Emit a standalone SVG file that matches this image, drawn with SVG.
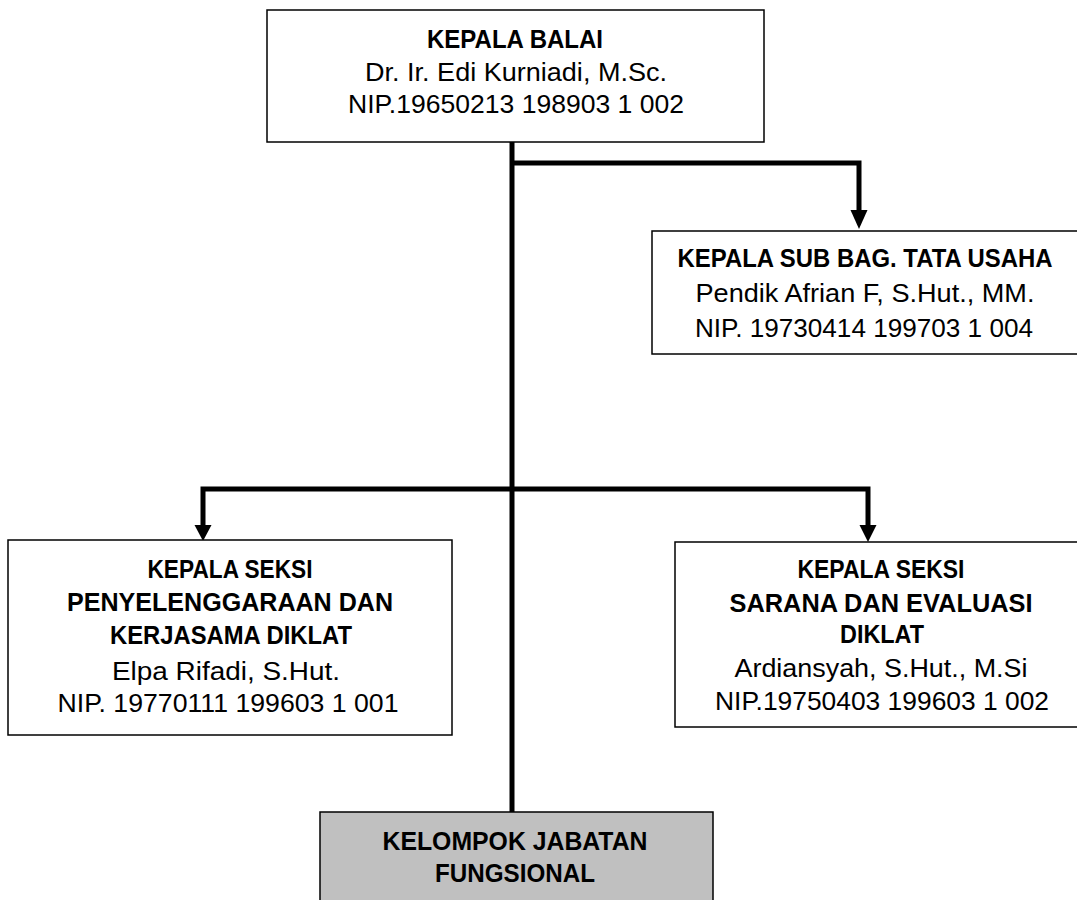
<svg xmlns="http://www.w3.org/2000/svg" width="1077" height="900" viewBox="0 0 1077 900">
<style>
.box{fill:#fff;stroke:#000;stroke-width:1.5}
.gray{fill:#c0c0c0;stroke:#000;stroke-width:1.5}
.t{font-family:"Liberation Sans",Arial,sans-serif;font-size:25px;fill:#000;text-anchor:middle}
.b{font-weight:bold}
.ln{fill:none;stroke:#000;stroke-width:5;stroke-linejoin:miter;stroke-linecap:butt}
.ah{fill:#000}
</style>
<rect width="1077" height="900" fill="#fff"/>
<g id="connectors">
<line class="ln" x1="512" y1="142" x2="512" y2="812"/>
<polyline class="ln" points="512,163 859,163 859,212"/>
<polygon class="ah" points="850.5,210 867.5,210 859,229"/>
<polyline class="ln" points="203,527 203,489 868,489 868,527"/>
<polygon class="ah" points="194.5,525 211.5,525 203,541"/>
<polygon class="ah" points="859.5,525 876.5,525 868,542"/>
</g>
<g id="kepala-balai">
<rect class="box" x="267" y="10" width="497" height="132"/>
<text class="t b" x="515" y="48" textLength="176" lengthAdjust="spacingAndGlyphs">KEPALA BALAI</text>
<text class="t" x="516" y="81" textLength="302" lengthAdjust="spacingAndGlyphs">Dr. Ir. Edi Kurniadi, M.Sc.</text>
<text class="t" x="516" y="113" textLength="336" lengthAdjust="spacingAndGlyphs">NIP.19650213 198903 1 002</text>
</g>
<g id="tata-usaha">
<rect class="box" x="652" y="231" width="430" height="123"/>
<text class="t b" x="865" y="267" textLength="375" lengthAdjust="spacingAndGlyphs">KEPALA SUB BAG. TATA USAHA</text>
<text class="t" x="865" y="302" textLength="339" lengthAdjust="spacingAndGlyphs">Pendik Afrian F, S.Hut., MM.</text>
<text class="t" x="864" y="337" textLength="338" lengthAdjust="spacingAndGlyphs">NIP. 19730414 199703 1 004</text>
</g>
<g id="seksi-penyelenggaraan">
<rect class="box" x="8" y="540" width="444" height="195"/>
<text class="t b" x="230" y="578" textLength="165" lengthAdjust="spacingAndGlyphs">KEPALA SEKSI</text>
<text class="t b" x="230" y="611" textLength="326" lengthAdjust="spacingAndGlyphs">PENYELENGGARAAN DAN</text>
<text class="t b" x="231" y="644" textLength="242" lengthAdjust="spacingAndGlyphs">KERJASAMA DIKLAT</text>
<text class="t" x="226" y="680" textLength="228" lengthAdjust="spacingAndGlyphs">Elpa Rifadi, S.Hut.</text>
<text class="t" x="228" y="712" textLength="341" lengthAdjust="spacingAndGlyphs">NIP. 19770111 199603 1 001</text>
</g>
<g id="seksi-sarana">
<rect class="box" x="675" y="542" width="412" height="185"/>
<text class="t b" x="881" y="578" textLength="167" lengthAdjust="spacingAndGlyphs">KEPALA SEKSI</text>
<text class="t b" x="881" y="612" textLength="303" lengthAdjust="spacingAndGlyphs">SARANA DAN EVALUASI</text>
<text class="t b" x="882" y="643" textLength="84" lengthAdjust="spacingAndGlyphs">DIKLAT</text>
<text class="t" x="881" y="677" textLength="293" lengthAdjust="spacingAndGlyphs">Ardiansyah, S.Hut., M.Si</text>
<text class="t" x="882" y="710" textLength="334" lengthAdjust="spacingAndGlyphs">NIP.19750403 199603 1 002</text>
</g>
<g id="kelompok-fungsional">
<rect class="gray" x="320" y="812" width="393" height="100"/>
<text class="t b" x="515" y="850" textLength="265" lengthAdjust="spacingAndGlyphs">KELOMPOK JABATAN</text>
<text class="t b" x="515" y="882" textLength="160" lengthAdjust="spacingAndGlyphs">FUNGSIONAL</text>
</g>
</svg>
